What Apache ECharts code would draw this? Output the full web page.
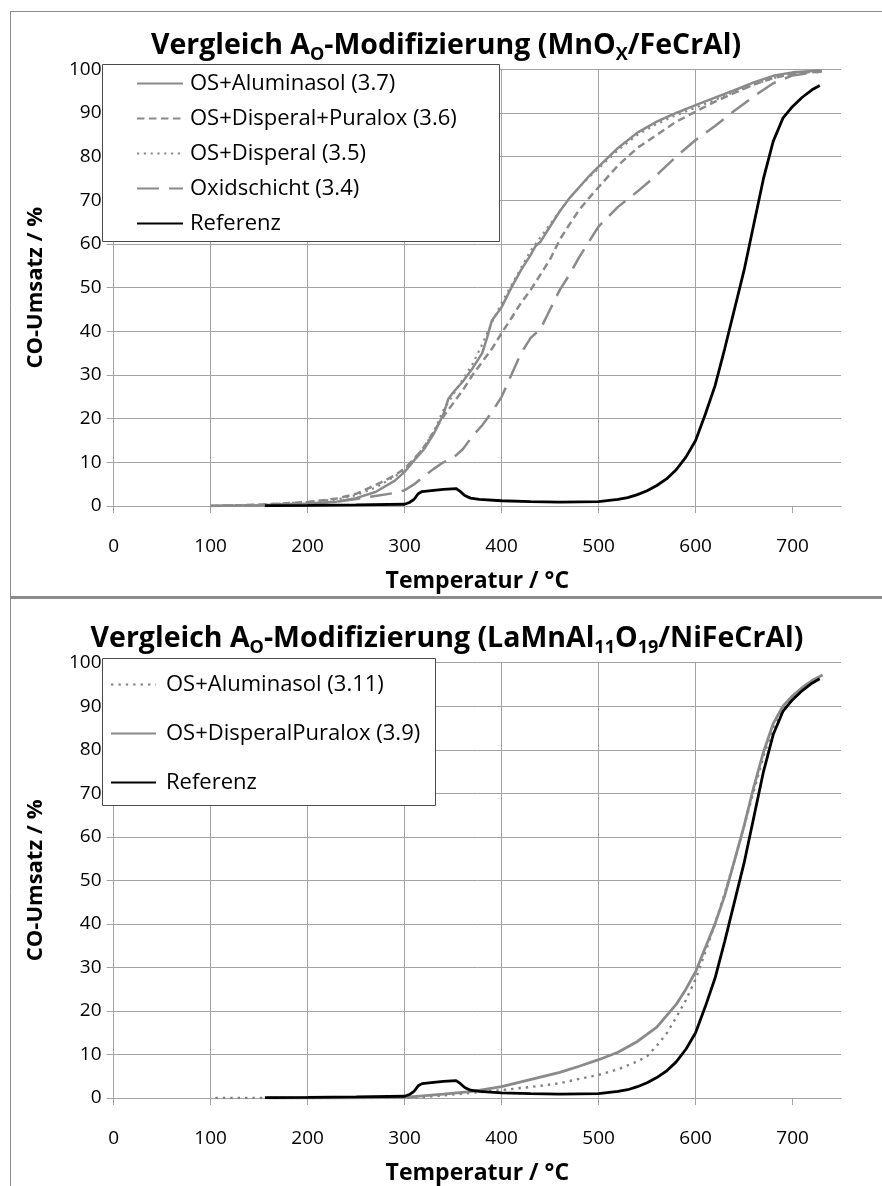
<!DOCTYPE html>
<html><head><meta charset="utf-8">
<script src="https://cdn.jsdelivr.net/npm/echarts@6/dist/echarts.min.js"></script>
<style>html,body{margin:0;padding:0;background:#fff}#c{width:882px;height:1186px}</style>
</head><body><div id="c"></div>
<script>
const FONT = '"Open Sans", "Noto Sans", sans-serif';
const xTicks = [0, 100, 200, 300, 400, 500, 600, 700];

// ---- top chart: MnOx/FeCrAl ----
const topNames = ['OS+Aluminasol (3.7)', 'OS+Disperal+Puralox (3.6)', 'OS+Disperal (3.5)', 'Oxidschicht (3.4)', 'Referenz'];
const topAluminasol = [[100,0],[150,0.2],[200,0.6],[230,1.0],[250,1.8],[270,3.2],[290,5.8],[300,7.8],[310,10.5],[320,13],[330,16.5],[340,21],[345,24.5],[350,26],[360,28.5],[370,31.5],[380,35],[385,38.5],[390,42.5],[400,45.5],[410,50],[420,54],[430,57.5],[435,59.5],[440,60.5],[450,64],[460,67.5],[470,70.5],[480,73],[490,75.5],[500,77.7],[520,82],[540,85.5],[560,88],[580,90],[600,91.8],[620,93.5],[640,95.2],[660,97],[680,98.5],[700,99.3],[730,99.7]];
const topDisperalPuralox = [[100,0],[150,0.3],[200,0.9],[230,1.7],[250,2.8],[270,4.8],[290,7],[300,8.6],[310,10.8],[320,13.5],[330,17],[340,20.5],[350,23.5],[360,26.5],[370,30],[380,33],[390,36],[400,39.6],[410,43],[420,46.5],[430,49.5],[440,53],[450,56.5],[460,61],[470,64.5],[480,67.8],[490,70.5],[500,73],[520,78],[540,82],[560,85],[580,88],[600,90.3],[620,92.6],[640,94.6],[660,96.5],[680,98],[700,99],[730,99.5]];
const topDisperal = [[100,0],[150,0.3],[200,0.9],[230,1.5],[250,2.5],[270,4.2],[290,6.8],[300,8.2],[310,10.8],[320,13.5],[330,17],[340,22],[350,25.5],[360,29],[370,32.5],[380,37],[390,42],[400,46.5],[410,50.5],[420,54.5],[430,58.5],[440,61.5],[450,64.5],[460,67.5],[470,70.5],[480,73],[490,75.3],[500,77.3],[520,81.5],[540,85],[560,87.5],[580,89.5],[600,91.2],[620,93],[640,94.8],[660,96.5],[680,98],[700,99],[730,99.6]];
const topOxidschicht = [[100,0],[150,0.2],[200,0.5],[230,1.0],[250,1.6],[270,2.3],[290,3.0],[300,3.6],[310,5],[320,6.8],[330,8.5],[340,10],[350,11],[360,13],[370,16],[380,18.5],[390,21.5],[400,25],[410,30],[420,35],[430,38.5],[440,40.5],[450,45],[460,49.5],[470,53],[480,57],[490,60.5],[500,64],[520,68.5],[540,72],[560,75.8],[580,80],[600,83.8],[620,87],[640,90.5],[660,93.8],[680,96.8],[700,98.6],[730,99.5]];
const referenz = [[156,0.1],[200,0.15],[250,0.25],[300,0.4],[305,0.8],[310,1.6],[314,2.8],[318,3.3],[330,3.6],[340,3.8],[353,4.0],[357,3.4],[362,2.4],[368,1.8],[377,1.5],[400,1.2],[430,1.0],[460,0.9],[500,1.0],[520,1.5],[530,1.9],[540,2.6],[550,3.5],[560,4.7],[570,6.2],[580,8.3],[590,11.2],[600,15],[610,21],[620,27.5],[630,36],[640,45],[650,54],[660,64.5],[670,75],[680,83.5],[690,88.8],[700,91.5],[710,93.6],[720,95.3],[728,96.3]];

// ---- bottom chart: LaMnAl11O19/NiFeCrAl ----
const botNames = ['OS+Aluminasol (3.11)', 'OS+DisperalPuralox (3.9)', 'Referenz'];
const botAluminasol = [[105,0],[150,0],[200,0],[300,0],[320,0.2],[360,1.0],[400,1.8],[440,2.8],[460,3.4],[480,4.4],[500,5.3],[520,6.6],[540,8.4],[550,9.6],[560,12],[570,14.8],[580,18.5],[590,22.5],[600,27.3],[610,33.5],[620,40],[630,47],[640,54.5],[650,62.5],[660,70.5],[670,78.5],[680,85],[690,89.5],[700,92],[710,94],[720,95.5],[731,96.8]];
const botDisperalPuralox = [[160,0],[250,0.05],[300,0.15],[340,0.9],[370,1.5],[400,2.6],[420,3.7],[440,4.8],[460,5.9],[480,7.3],[500,8.8],[520,10.5],[540,13],[560,16.3],[580,21.5],[590,25],[600,29],[610,34.5],[620,40],[630,46.5],[640,54.5],[650,62.5],[660,71.5],[670,79.5],[680,86],[690,90],[700,92.4],[710,94.3],[720,95.9],[731,97.2]];

const GRAY = '#8a8a8a';
const GRID_C = '#a3a3a3';

function xAxisCfg(gi) {
  return {
    gridIndex: gi, type: 'value', min: 0, max: 750, interval: 100,
    axisLine: { show: true, onZero: false, lineStyle: { color: GRID_C, width: 1 } },
    axisTick: { show: true, length: 7, customValues: xTicks, lineStyle: { color: GRID_C } },
    axisLabel: { customValues: xTicks, margin: 31, fontFamily: FONT, fontSize: 19, color: '#000' },
    splitLine: { show: true, showMaxLine: false, lineStyle: { color: GRID_C, width: 1 } },
    name: 'Temperatur / °C', nameLocation: 'middle', nameGap: 64,
    nameTextStyle: { fontFamily: FONT, fontWeight: 'bold', fontSize: 23, color: '#000' }
  };
}
function yAxisCfg(gi) {
  return {
    gridIndex: gi, type: 'value', min: 0, max: 100, interval: 10,
    axisLine: { show: true, lineStyle: { color: GRID_C, width: 1 } },
    axisTick: { show: true, length: 7, lineStyle: { color: GRID_C } },
    axisLabel: { margin: 12, fontFamily: FONT, fontSize: 19, color: '#000' },
    splitLine: { show: true, lineStyle: { color: GRID_C, width: 1 } },
    name: 'CO-Umsatz / %', nameLocation: 'middle', nameGap: 67, nameRotate: 90,
    nameTextStyle: { fontFamily: FONT, fontWeight: 'bold', fontSize: 22, color: '#000' }
  };
}
function ser(name, data, gi, color, width, type) {
  return {
    name: name, type: 'line', xAxisIndex: gi, yAxisIndex: gi, data: data,
    symbol: 'none', showSymbol: false, smooth: false, animation: false,
    lineStyle: { color: color, width: width, type: type },
    itemStyle: { color: color }
  };
}
const subStyle = { fontFamily: FONT, fontWeight: 'bold', fontSize: 18, lineHeight: 18, padding: [19, 0, 0, 0], color: '#000' };
const titleStyle = { fontFamily: FONT, fontWeight: 'bold', fontSize: 28.5, lineHeight: 37, color: '#000', rich: { s: subStyle } };
const legendTextTop = { fontFamily: FONT, fontSize: 22, lineHeight: 25, color: '#000', padding: [0, 0, 0, 2] };
const legendTextBot = { fontFamily: FONT, fontSize: 22, lineHeight: 25, color: '#000', padding: [0, 0, 0, 5] };

const chart = echarts.init(document.getElementById('c'), null, { renderer: 'canvas' });
chart.setOption({
  animation: false,
  backgroundColor: '#fff',
  title: [
    { text: 'Vergleich A{s|O}-Modifizierung (MnO{s|X}/FeCrAl)', left: 446, top: 27, textAlign: 'center', padding: 0, textStyle: titleStyle },
    { text: 'Vergleich A{s|O}-Modifizierung (LaMnAl{s|11}O{s|19}/NiFeCrAl)', left: 447, top: 620, textAlign: 'center', padding: 0, textStyle: titleStyle }
  ],
  grid: [
    { left: 113.6, top: 69.3, width: 727.5, height: 436.7 },
    { left: 113.6, top: 662.7, width: 727.5, height: 436.8 }
  ],
  xAxis: [xAxisCfg(0), xAxisCfg(1)],
  yAxis: [yAxisCfg(0), yAxisCfg(1)],
  legend: [
    { data: topNames, orient: 'vertical', left: 136, top: 71, padding: 0, itemWidth: 46, itemHeight: 14, itemGap: 10,
      textStyle: legendTextTop, itemStyle: { opacity: 0 }, selectedMode: false },
    { data: botNames, orient: 'vertical', left: 110, top: 672, padding: 0, itemWidth: 45, itemHeight: 14, itemGap: 24,
      textStyle: legendTextBot, itemStyle: { opacity: 0 }, selectedMode: false }
  ],
  graphic: [
    { type: 'line', shape: { x1: 10.5, y1: 11, x2: 10.5, y2: 1186 }, style: { stroke: '#8c8c8c', lineWidth: 1 }, z: 10 },
    { type: 'line', shape: { x1: 10, y1: 11.5, x2: 882, y2: 11.5 }, style: { stroke: '#8c8c8c', lineWidth: 1 }, z: 10 },
    { type: 'line', shape: { x1: 10, y1: 597.5, x2: 882, y2: 597.5 }, style: { stroke: '#8c8c8c', lineWidth: 3 }, z: 10 },
    { type: 'rect', shape: { x: 102.5, y: 64.5, width: 397, height: 177 }, style: { fill: '#fff', stroke: '#4a4a4a', lineWidth: 1 }, z: 3 },
    { type: 'rect', shape: { x: 102.5, y: 658.5, width: 333, height: 147 }, style: { fill: '#fff', stroke: '#4a4a4a', lineWidth: 1 }, z: 3 }
  ],
  series: [
    ser(topNames[0], topAluminasol, 0, GRAY, 2.5, 'solid'),
    ser(topNames[1], topDisperalPuralox, 0, GRAY, 2.5, [7.5, 4.5]),
    ser(topNames[2], topDisperal, 0, GRAY, 2.2, [2.2, 4.6]),
    ser(topNames[3], topOxidschicht, 0, GRAY, 2.5, [22, 10]),
    ser(topNames[4], referenz, 0, '#000', 2.8, 'solid'),
    ser(botNames[0], botAluminasol, 1, '#808080', 2.4, [2.4, 5]),
    ser(botNames[1], botDisperalPuralox, 1, GRAY, 2.8, 'solid'),
    ser(botNames[2], referenz, 1, '#000', 2.8, 'solid')
  ]
});
</script></body></html>
